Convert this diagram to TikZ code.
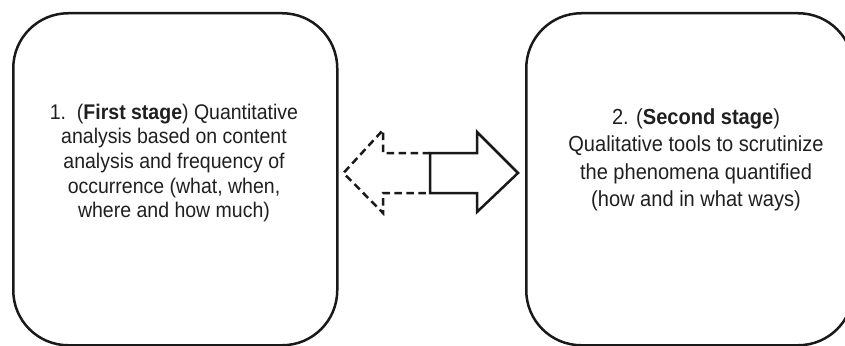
\documentclass[tikz,border=0pt]{standalone}
\usepackage{fontspec}
\setmainfont{Liberation Sans}
\newfontfamily\stagefont[FakeStretch=0.92]{Liberation Sans}
\usetikzlibrary{calc}
\begin{document}
\begin{tikzpicture}[x=1pt,y=-1pt,
  stagebox/.style={draw=black!90, line width=2.5pt, rounded corners=55pt, inner sep=0pt},
  stagetext/.style={align=center, inner sep=0pt, text=black!88},
  arrline/.style={line width=2.5pt, line join=miter, black!90},
  arrdash/.style={arrline, dash pattern=on 7.5pt off 4.5pt}]
\useasboundingbox (0,0) rectangle (845,345);
\clip (0,0) rectangle (845,345);
\node[stagebox, minimum width=324pt, minimum height=332pt, anchor=north west] (first) at (12,12) {};
\node[stagebox, minimum width=327pt, minimum height=332pt, anchor=north west] (second) at (525,12) {};
\node[stagetext, font=\stagefont\fontsize{21.2}{24.6}\selectfont] (t1) at (174,163)
  {1.\ \ (\textbf{First stage}) Quantitative\\analysis based on content\\analysis and frequency of\\occurrence (what, when,\\where and how much)};
\node[stagetext, font=\stagefont\fontsize{21.8}{27.3}\selectfont] (t2) at (696,160)
  {2. (\textbf{Second stage})\\Qualitative tools to scrutinize\\the phenomena quantified\\(how and in what ways)};
\coordinate (mid) at (430,173);
\coordinate (ltip) at ($(first.east |- mid)+(5,0)$);
\coordinate (rtip) at ($(second.west |- mid)+(-7,0)$);
\draw[arrline] ($(mid)+(0,-20)$) -- ($(mid)+(47,-20)$) -- ($(mid)+(47,-41)$) -- (rtip)
  -- ($(mid)+(47,39)$) -- ($(mid)+(47,20)$) -- ($(mid)+(0,20)$) -- cycle;
\draw[arrdash] ($(mid)+(0,-20)$) -- ($(mid)+(-47,-20)$) -- ($(mid)+(-47,-43)$) -- (ltip)
  -- ($(mid)+(-47,40)$) -- ($(mid)+(-47,20)$) -- ($(mid)+(0,20)$);
\end{tikzpicture}
\end{document}
